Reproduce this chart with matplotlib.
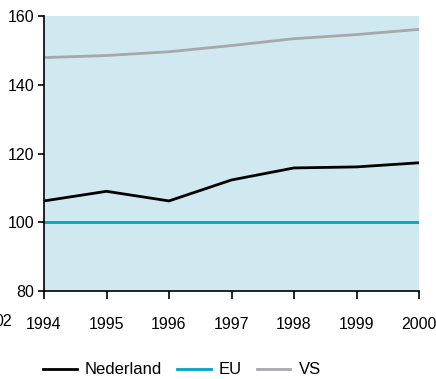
import matplotlib
matplotlib.use("Agg")
import matplotlib.pyplot as plt

years = [1994, 1995, 1996, 1997, 1998, 1999, 2000]
nederland = [106.2, 109.0, 106.2, 112.3, 115.8, 116.1, 117.3]
eu = [100, 100, 100, 100, 100, 100, 100]
vs = [147.9, 148.5, 149.6, 151.4, 153.4, 154.6, 156.1]
yticks = [80, 100, 120, 140, 160]

plt.rcParams['font.family'] = ['Liberation Sans', 'DejaVu Sans']

fig = plt.figure(figsize=(4.36, 3.79), dpi=100)
ax = fig.add_axes([44/436, 1 - 291/379, 375/436, 275/379])
ax.set_facecolor('#d0e8ef')

ax.plot(years, nederland, color='#000000', lw=2.0, label='Nederland')
ax.plot(years, eu, color='#00a5c4', lw=2.0, label='EU')
ax.plot(years, vs, color='#a7a7ac', lw=2.0, label='VS')

ax.set_xlim(1994, 2000)
ax.set_ylim(80, 160)
ax.set_xticks(years)
ax.set_yticks(yticks)
ax.tick_params(axis='both', labelsize=11.5, width=1.2, color='#000000')
ax.tick_params(axis='x', length=6, pad=13)
ax.tick_params(axis='y', length=4, pad=3)
for s in ('top', 'right'):
    ax.spines[s].set_visible(False)
for s in ('left', 'bottom'):
    ax.spines[s].set_linewidth(1.2)

fig.text(12/436, 1 - 322/379, '02', fontsize=11.5, ha='right', va='center')

fig.legend(loc='center', bbox_to_anchor=(182/436, 1 - 370/379), ncol=3, frameon=False,
           fontsize=12, handlelength=2.0, handletextpad=0.5, columnspacing=0.9,
           borderpad=0, borderaxespad=0)

fig.savefig('out.png', dpi=100)
